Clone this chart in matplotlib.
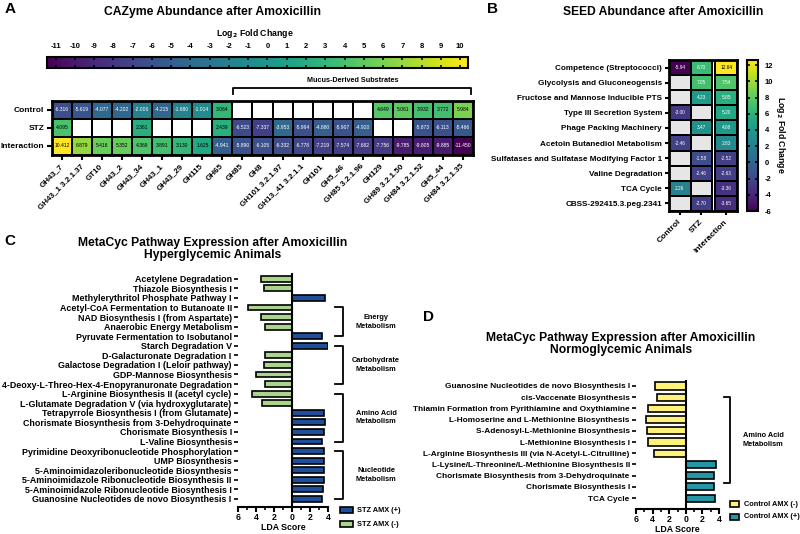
import numpy as np
import matplotlib
matplotlib.use('Agg')
import matplotlib.pyplot as plt
from matplotlib import transforms
from matplotlib.colors import Normalize
from matplotlib.patches import Rectangle
from matplotlib.lines import Line2D

plt.rcParams['font.family'] = ['Liberation Sans', 'DejaVu Sans']
plt.rcParams['font.weight'] = 'bold'
plt.rcParams['axes.labelweight'] = 'bold'
plt.rcParams['mathtext.default'] = 'bf'
plt.rcParams['axes.unicode_minus'] = False

nan = np.nan

# ---------------- Panel A data ----------------
cazy_enzymes = ['GH43_7', 'GH43_1 3.2.1.37', 'GT10', 'GH43_2', 'GH43_34', 'GH43_1',
                'GH43_29', 'GH115', 'GH65', 'GH85', 'GH8', 'GH101 3.2.1.97',
                'GH13_41 3.2.1.1', 'GH101', 'GH5_46', 'GH85 3.2.1.96', 'GH129',
                'GH89 3.2.1.50', 'GH84 3.2.1.52', 'GH5_44', 'GH84 3.2.1.35']
cazy_rows = ['Control', 'STZ', 'Interaction']
cazy_control = [-6.316, -5.619, -4.077, -4.202, -2.006, -4.215, -1.880, -1.014, 3.064,
                nan, nan, nan, nan, nan, nan, nan, 4.649, 5.061, 3.932, 3.772, 5.984]
cazy_stz = [4.095, nan, nan, nan, 2.361, nan, nan, nan, 2.439, -6.523, -7.337, -3.953,
            -5.994, -4.880, -5.907, -4.920, nan, nan, -5.873, -6.113, -5.466]
cazy_interaction = [10.412, 6.879, 5.416, 5.352, 4.368, 3.891, 3.130, 1.625, -4.941,
                    -5.890, -6.105, -6.332, -6.778, -7.219, -7.574, -7.682, -7.756,
                    -9.785, -9.805, -9.885, -11.450]
cazy_cbar_ticks = list(range(-11, 11))
mucus_first, mucus_last = 'GH85', 'GH84 3.2.1.35'

# ---------------- Panel B data ----------------
seed_rows = ['Competence (Streptococci)', 'Glycolysis and Gluconeogensis',
             'Fructose and Mannose Inducible PTS', 'Type III Secretion System',
             'Phage Packing Machinery', 'Acetoin Butanediol Metabolism',
             'Sulfatases and Sulfatase Modifying Factor 1', 'Valine Degradation',
             'TCA Cycle', 'CBSS-292415.3.peg.2341']
seed_cols = ['Control', 'STZ', 'Interaction']
seed_control = [-5.94, nan, nan, -3.00, nan, -2.46, nan, nan, 2.26, nan]
seed_stz = [6.70, 7.05, 4.23, nan, 3.47, nan, -1.58, -2.46, nan, -2.70]
seed_interaction = [12.64, 7.54, 5.85, 5.20, 4.08, 2.83, -2.52, -2.63, -3.36, -3.65]
seed_cbar_ticks = list(range(-6, 13, 2))

# ---------------- Panel C data ----------------
c_pathways = ['Acetylene Degradation', 'Thiazole Biosynthesis I',
              'Methylerythritol Phosphate Pathway I', 'Acetyl-CoA Fermentation to Butanoate II',
              'NAD Biosynthesis I (from Aspartate)', 'Anaerobic Energy Metabolism',
              'Pyruvate Fermentation to Isobutanol', 'Starch Degradation V',
              'D-Galacturonate Degradation I', 'Galactose Degradation I (Leloir pathway)',
              'GDP-Mannose Biosynthesis', '4-Deoxy-L-Threo-Hex-4-Enopyranuronate Degradation',
              'L-Arginine Biosynthesis II (acetyl cycle)',
              'L-Glutamate Degradation V (via hydroxyglutarate)',
              'Tetrapyrrole Biosynthesis I (from Glutamate)',
              'Chorismate Biosynthesis from 3-Dehydroquinate', 'Chorismate Biosynthesis I',
              'L-Valine Biosynthesis', 'Pyrimidine Deoxyribonucleotide Phosphorylation',
              'UMP Biosynthesis', '5-Aminoimidazoleribonucleotide Biosynthesis',
              '5-Aminoimidazole Ribonucleotide Biosynthesis II',
              '5-Aminoimidazole Ribonucleotide Biosynthesis I',
              'Guanosine Nucleotides de novo Biosynthesis I']
c_lda = [3.4, 3.15, 3.7, 4.9, 3.4, 3.0, 3.3, 4.0, 3.0, 3.15, 4.0, 2.95, 4.4, 3.3,
         3.5, 3.67, 3.6, 3.37, 3.5, 3.55, 3.5, 3.5, 3.4, 3.37]
c_group = ['-', '-', '+', '-', '-', '-', '+', '+', '-', '-', '-', '-', '-', '-',
           '+', '+', '+', '+', '+', '+', '+', '+', '+', '+']
c_brackets = [('Energy\nMetabolism', 'Acetyl-CoA Fermentation to Butanoate II',
               'Pyruvate Fermentation to Isobutanol'),
              ('Carbohydrate\nMetabolism', 'Starch Degradation V',
               '4-Deoxy-L-Threo-Hex-4-Enopyranuronate Degradation'),
              ('Amino Acid\nMetabolism', 'L-Arginine Biosynthesis II (acetyl cycle)',
               'L-Valine Biosynthesis'),
              ('Nucleotide\nMetabolism', 'Pyrimidine Deoxyribonucleotide Phosphorylation',
               'Guanosine Nucleotides de novo Biosynthesis I')]
c_legend = {'+': 'STZ AMX (+)', '-': 'STZ AMX (-)'}

# ---------------- Panel D data ----------------
d_pathways = ['Guanosine Nucleotides de novo Biosynthesis I', 'cis-Vaccenate Biosynthesis',
              'Thiamin Formation from Pyrithiamine and Oxythiamine',
              'L-Homoserine and L-Methionine Biosynthesis',
              'S-Adenosyl-L-Methionine Biosynthesis', 'L-Methionine Biosynthesis I',
              'L-Arginine Biosynthesis III (via N-Acetyl-L-Citrulline)',
              'L-Lysine/L-Threonine/L-Methionine Biosynthesis II',
              'Chorismate Biosynthesis from 3-Dehydroquinate', 'Chorismate Biosynthesis I',
              'TCA Cycle']
d_lda = [3.76, 3.5, 4.6, 4.76, 4.7, 4.5, 3.84, 3.64, 3.44, 3.4, 3.52]
d_group = ['-', '-', '-', '-', '-', '-', '-', '+', '+', '+', '+']
d_legend = {'-': 'Control AMX (-)', '+': 'Control AMX (+)'}

lda_ticks = [-6, -4, -2, 0, 2, 4]

# ---------------- styling ----------------
C_GREEN = '#acd48f'
C_BLUE = '#1f4f9a'
C_YELLOW = '#fff27a'
C_TEAL = '#2496a6'

W, H = 800, 534
fig = plt.figure(figsize=(8, 5.34), dpi=100)


def px_axes(x0, y0, x1, y1):
    return fig.add_axes([x0 / W, 1 - y1 / H, (x1 - x0) / W, (y1 - y0) / H])


def ftxt(x, y, s, **kw):
    return fig.text(x / W, 1 - y / H, s, **kw)


def frect(x, y, w, h, **kw):
    fig.add_artist(Rectangle((x / W, 1 - (y + h) / H), w / W, h / H,
                             transform=fig.transFigure, **kw))


# =============== Panel A ===============
ftxt(10, 9, 'A', fontsize=11, fontweight='bold', ha='center', va='center')
ftxt(212, 12, 'CAZyme Abundance after Amoxicillin', fontsize=8.7, fontweight='bold',
     ha='center', va='center')
ftxt(255, 33, r'Log$_{2}$ Fold Change', fontsize=6.3, fontweight='bold',
     ha='center', va='center')

Z = np.ma.masked_invalid(np.array([cazy_control, cazy_stz, cazy_interaction]))
cmapA = plt.get_cmap('viridis').copy()
cmapA.set_bad('white')
normA = Normalize(vmin=np.nanmin(Z), vmax=np.nanmax(Z))
axA = px_axes(52, 101, 473, 155)
mA = axA.pcolormesh(np.arange(len(cazy_enzymes) + 1), np.arange(len(cazy_rows) + 1), Z,
                    cmap=cmapA, norm=normA, edgecolors='black', linewidth=1.3)
axA.set_xlim(0, len(cazy_enzymes))
axA.set_ylim(len(cazy_rows), 0)
for i in range(len(cazy_rows)):
    for j in range(len(cazy_enzymes)):
        v = Z[i, j]
        if v is np.ma.masked:
            continue
        col = 'black' if normA(v) > 0.5 else 'white'
        axA.text(j + 0.5, i + 0.5, f'{v:.3f}', fontsize=3.6, color=col,
                 ha='center', va='center', fontweight='normal')
axA.set_xticks(np.arange(len(cazy_enzymes)) + 0.5)
axA.set_xticklabels(cazy_enzymes, rotation=45, ha='right', va='center',
                    rotation_mode='anchor', fontsize=5.8, fontweight='bold')
axA.set_yticks(np.arange(len(cazy_rows)) + 0.5)
axA.set_yticklabels(cazy_rows, fontsize=6.0, fontweight='bold')
axA.tick_params(axis='both', length=3.5, width=1.5, pad=2)
axA.tick_params(axis='x', pad=4)
for s in axA.spines.values():
    s.set_linewidth(2)

caxA = px_axes(47, 57, 468, 68)
cbA = fig.colorbar(mA, cax=caxA, orientation='horizontal')
cbA.set_ticks(cazy_cbar_ticks)
caxA.xaxis.set_ticks_position('both')
caxA.tick_params(axis='x', top=True, bottom=True, labeltop=True, labelbottom=False,
                 length=2.5, width=1.2, labelsize=5.5, direction='in', pad=5)
for lab in caxA.get_xticklabels():
    lab.set_fontweight('bold')
cbA.outline.set_linewidth(1.5)

# Mucus-derived substrates bracket
ix0 = cazy_enzymes.index(mucus_first)
ix1 = cazy_enzymes.index(mucus_last)
tA = transforms.blended_transform_factory(axA.transData, fig.transFigure)
yb, yt = 1 - 88 / H, 1 - 94 / H
axA.add_line(Line2D([ix0 + 0.05, ix0 + 0.05, ix1 + 0.9, ix1 + 0.9], [yt, yb, yb, yt],
                    transform=tA, color='black', lw=1.3, clip_on=False))
axA.text((ix0 + ix1 + 1) / 2, 1 - 81 / H, 'Mucus-Derived Substrates', transform=tA,
         fontsize=5.2, fontweight='bold', ha='center', va='center')

# =============== Panel B ===============
ftxt(492, 9, 'B', fontsize=11, fontweight='bold', ha='center', va='center')
ftxt(663, 12, 'SEED Abundance after Amoxicillin', fontsize=8.7, fontweight='bold',
     ha='center', va='center')

ZB = np.ma.masked_invalid(np.array([seed_control, seed_stz, seed_interaction]).T)
cmapB = plt.get_cmap('viridis').copy()
cmapB.set_bad('#e6e6e6')
normB = Normalize(vmin=-6, vmax=np.nanmax(ZB))
axB = px_axes(669, 60, 737, 211)
gap = 0.14
nR = len(seed_rows)
mB = axB.pcolormesh([0, 1, 2], np.arange(nR + 1), ZB[:, :2], cmap=cmapB, norm=normB,
                    edgecolors='black', linewidth=1.2)
axB.pcolormesh([2 + gap, 3 + gap], np.arange(nR + 1), ZB[:, 2:], cmap=cmapB, norm=normB,
               edgecolors='black', linewidth=1.2)
xcentres = [0.5, 1.5, 2.5 + gap]
axB.set_xlim(0, 3 + gap)
axB.set_ylim(nR, 0)
for i in range(nR):
    for j in range(3):
        v = ZB[i, j]
        if v is np.ma.masked:
            continue
        col = 'black' if normB(v) > 0.8 else 'white'
        axB.text(xcentres[j], i + 0.5, f'{v:.2f}', fontsize=3.4, color=col,
                 ha='center', va='center', fontweight='normal')
axB.set_xticks(xcentres)
axB.set_xticklabels(seed_cols, rotation=45, ha='right', va='center',
                    rotation_mode='anchor', fontsize=6.0, fontweight='bold')
axB.set_yticks(np.arange(nR) + 0.5)
axB.set_yticklabels(seed_rows, fontsize=5.85, fontweight='bold')
axB.tick_params(axis='both', length=3, width=1.5, pad=2)
axB.tick_params(axis='x', pad=4)
for s in axB.spines.values():
    s.set_linewidth(2)

caxB = px_axes(747, 60, 758, 211)
cbB = fig.colorbar(mB, cax=caxB)
cbB.set_ticks(seed_cbar_ticks)
caxB.tick_params(axis='y', length=2.5, width=1.2, labelsize=5.5, direction='in', pad=5,
                 left=True)
for lab in caxB.get_yticklabels():
    lab.set_fontweight('bold')
cbB.outline.set_linewidth(1.5)
ftxt(781, 135, r'Log$_{2}$ Fold Change', fontsize=6.3, fontweight='bold', rotation=270,
     ha='center', va='center')


# =============== bar panels ===============
def lda_panel(ax, names, lda, group, colors, height, labelsize):
    n = len(names)
    y = np.arange(n)
    signed = [(-v if g == '-' else v) for v, g in zip(lda, group)]
    ax.barh(y, signed, height=height, color=[colors[g] for g in group],
            edgecolor='black', linewidth=1.2, zorder=2)
    ax.axvline(0, color='black', lw=1.5, zorder=3)
    ax.set_xlim(-6, 4)
    ax.set_xticks(lda_ticks)
    ax.set_xticklabels([str(abs(t)) for t in lda_ticks], fontsize=6.3, fontweight='bold')
    ax.set_xticks([-5, -3, -1, 1, 3], minor=True)
    ax.set_yticks(y)
    ax.set_yticklabels(names, fontsize=labelsize, fontweight='bold')
    for side in ('top', 'right', 'left'):
        ax.spines[side].set_visible(False)
    ax.spines['bottom'].set_linewidth(1.5)
    ax.tick_params(axis='x', which='major', length=3.5, width=1.5, pad=1)
    ax.tick_params(axis='x', which='minor', length=2, width=1.2)
    ax.tick_params(axis='y', length=3, width=1.2, pad=1.5)
    ax.set_xlabel('LDA Score', fontsize=6.3, fontweight='bold', labelpad=0.8)


# =============== Panel C ===============
ftxt(10, 241, 'C', fontsize=11, fontweight='bold', ha='center', va='center')
ftxt(213, 249, 'MetaCyc Pathway Expression after Amoxicillin\nHyperglycemic Animals',
     fontsize=8.7, fontweight='bold', ha='center', va='center', linespacing=1.05)
axC = px_axes(238, 273, 328, 507)
lda_panel(axC, c_pathways, c_lda, c_group, {'+': C_BLUE, '-': C_GREEN}, 0.62, 6.4)
axC.set_ylim(len(c_pathways) - 1 + 0.84, -0.6)
tC = transforms.blended_transform_factory(fig.transFigure, axC.transData)
xv, xt = 343 / W, 335 / W
for label, first, last in c_brackets:
    i0, i1 = c_pathways.index(first), c_pathways.index(last)
    axC.add_line(Line2D([xt, xv, xv, xt], [i0, i0, i1, i1], transform=tC, color='black',
                        lw=1.3, clip_on=False))
    axC.text(376 / W, (i0 + i1) / 2, label, transform=tC, fontsize=5.3, fontweight='bold',
             ha='center', va='center', linespacing=1.3)
for k, (g, col) in enumerate([('+', C_BLUE), ('-', C_GREEN)]):
    yy = 507 + k * 14
    frect(340, yy, 13, 6, facecolor=col, edgecolor='black', linewidth=1.2)
    ftxt(357, yy + 3, c_legend[g], fontsize=5.3, fontweight='bold', ha='left', va='center')

# =============== Panel D ===============
ftxt(428, 317, 'D', fontsize=11, fontweight='bold', ha='center', va='center')
ftxt(621, 344, 'MetaCyc Pathway Expression after Amoxicillin\nNormoglycemic Animals',
     fontsize=8.7, fontweight='bold', ha='center', va='center', linespacing=1.05)
axD = px_axes(636, 380, 719, 509)
lda_panel(axD, d_pathways, d_lda, d_group, {'+': C_TEAL, '-': C_YELLOW}, 0.64, 5.95)
axD.set_ylim(len(d_pathways) - 1 + 0.97, -0.53)
tD = transforms.blended_transform_factory(fig.transFigure, axD.transData)
i0 = d_pathways.index('cis-Vaccenate Biosynthesis')
i1 = d_pathways.index('Chorismate Biosynthesis from 3-Dehydroquinate') + 0.65
xv, xt = 730 / W, 724 / W
axD.add_line(Line2D([xt, xv, xv, xt], [i0, i0, i1, i1], transform=tD, color='black',
                    lw=1.3, clip_on=False))
axD.text(763 / W, (i0 + i1) / 2, 'Amino Acid\nMetabolism', transform=tD, fontsize=5.3,
         fontweight='bold', ha='center', va='center', linespacing=1.3)
for k, (g, col) in enumerate([('-', C_YELLOW), ('+', C_TEAL)]):
    yy = 501 + k * 13
    frect(730, yy, 9, 6, facecolor=col, edgecolor='black', linewidth=1.2)
    ftxt(744, yy + 3, d_legend[g], fontsize=5.3, fontweight='bold', ha='left', va='center')

fig.savefig('out.png', dpi=100)
